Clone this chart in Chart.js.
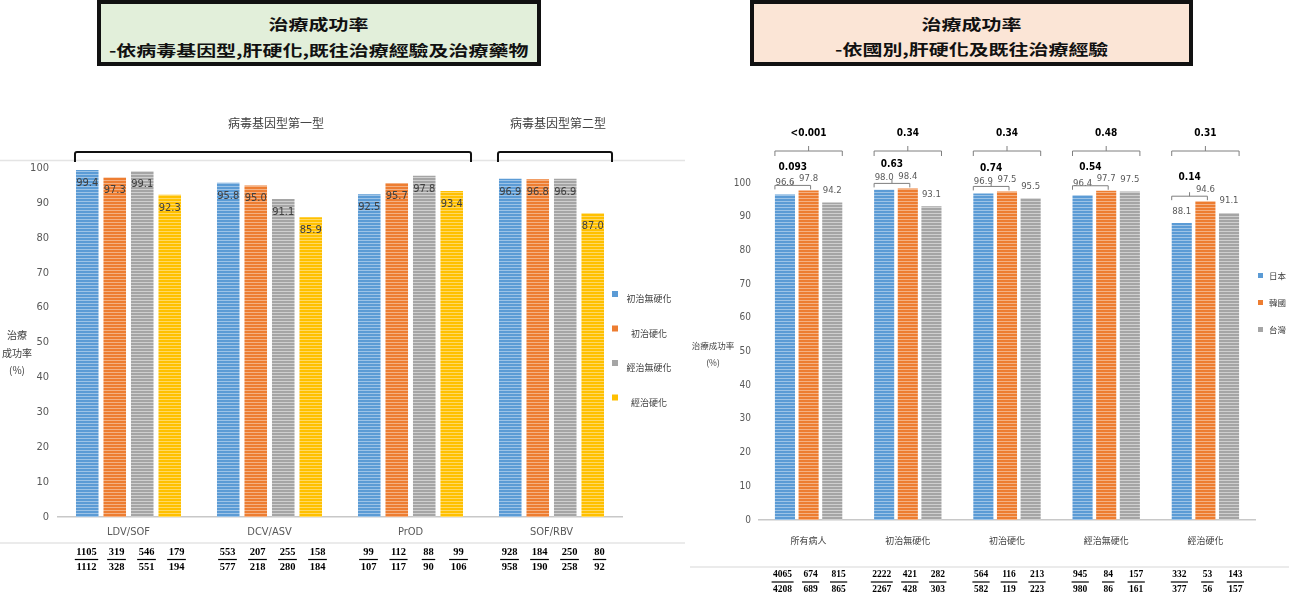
<!DOCTYPE html>
<html><head><meta charset="utf-8">
<script src="https://cdn.jsdelivr.net/npm/chart.js@4"></script>
<style>
html,body{margin:0;padding:0;background:#fff;width:1289px;height:606px;overflow:hidden;}
#wrap{position:relative;width:1289px;height:606px;}
canvas{position:absolute;top:0;}
.tbox{position:absolute;top:0;height:66px;box-sizing:border-box;border:4px solid #111;text-align:center;font-family:"Noto Sans CJK TC";font-weight:700;color:#111;}
.tline{position:absolute;left:0;right:0;font-size:15px;line-height:18px;white-space:nowrap;}
.tline span{display:inline-block;transform:scaleX(1.33);transform-origin:center;}
.ytitle{position:absolute;font-family:"Noto Sans CJK TC";color:#404040;text-align:center;white-space:nowrap;}
</style></head>
<body><div id="wrap">
<canvas id="left" width="685" height="606" style="left:0"></canvas>
<canvas id="right" width="604" height="606" style="left:685px"></canvas>
<div class="tbox" style="left:97px;width:444px;background:#E2EFDA;">
  <div class="tline" style="top:11px"><span>治療成功率</span></div>
  <div class="tline" style="top:37px"><span>-依病毒基因型,肝硬化,既往治療經驗及治療藥物</span></div>
</div>
<div class="tbox" style="left:750px;width:443px;background:#FBE5D6;">
  <div class="tline" style="top:11px"><span>治療成功率</span></div>
  <div class="tline" style="top:36px"><span>-依國別,肝硬化及既往治療經驗</span></div>
</div>
<div class="ytitle" style="left:0;width:34px;top:326px;font-size:10px;line-height:17.5px;">治療<br>成功率<br>(%)</div>
<div class="ytitle" style="left:688px;width:50px;top:337px;font-size:8.5px;line-height:17px;">治療成功率<br>(%)</div>
</div>
<script>
// ---------- Left chart data ----------
const leftCategories = ['LDV/SOF','DCV/ASV','PrOD','SOF/RBV'];
const leftSeries = ['初治無硬化','初治硬化','經治無硬化','經治硬化'];
const naiveNoCirr = [99.4, 95.8, 92.5, 96.9];
const naiveCirr   = [97.3, 95.0, 95.7, 96.8];
const expNoCirr   = [99.1, 91.1, 97.8, 96.9];
const expCirr     = [92.3, 85.9, 93.4, 87.0];
const naiveNoCirrCured = [1105, 553, 99, 928];
const naiveNoCirrTotal = [1112, 577, 107, 958];
const naiveCirrCured   = [319, 207, 112, 184];
const naiveCirrTotal   = [328, 218, 117, 190];
const expNoCirrCured   = [546, 255, 88, 250];
const expNoCirrTotal   = [551, 280, 90, 258];
const expCirrCured     = [179, 158, 99, 80];
const expCirrTotal     = [194, 184, 106, 92];
const genotypeLabels   = ['病毒基因型第一型','病毒基因型第二型'];
const genotypeFirstCat = [0, 3];
const genotypeLastCat  = [2, 3];

// ---------- Right chart data ----------
const rightCategories = ['所有病人','初治無硬化','初治硬化','經治無硬化','經治硬化'];
const rightSeries = ['日本','韓國','台灣'];
const japan  = [96.6, 98.0, 96.9, 96.4, 88.1];
const korea  = [97.8, 98.4, 97.5, 97.7, 94.6];
const taiwan = [94.2, 93.1, 95.5, 97.5, 91.1];
const japanCured  = [4065, 2222, 564, 945, 332];
const japanTotal  = [4208, 2267, 582, 980, 377];
const koreaCured  = [674, 421, 116, 84, 53];
const koreaTotal  = [689, 428, 119, 86, 56];
const taiwanCured = [815, 282, 213, 157, 143];
const taiwanTotal = [865, 303, 223, 161, 157];
const pOverall    = ['<0.001','0.34','0.34','0.48','0.31'];
const pJapanKorea = ['0.093','0.63','0.74','0.54','0.14'];

const NARROW = '"Liberation Sans Narrow","DejaVu Sans Condensed",sans-serif';
const CJK = '"Noto Sans CJK TC",sans-serif';
const SERIF = '"Liberation Serif",serif';

function stripes(base, light){
  const c = document.createElement('canvas'); c.width = 4; c.height = 3;
  const g = c.getContext('2d');
  g.fillStyle = base; g.fillRect(0,0,4,3);
  g.fillStyle = light; g.fillRect(0,0,4,1);
  return g.createPattern(c, 'repeat');
}
const BLUE = ['#5B9BD5','#9DC3E6'], ORANGE = ['#ED7D31','#F4B183'], GRAY = ['#A5A5A5','#CFCFCF'], YELLOW = ['#FFC000','#FFD966'];

function drawFraction(ctx, x, num, den, yNum, yLine, yDen, font){
  ctx.font = font; ctx.fillStyle = '#000'; ctx.textAlign = 'center'; ctx.textBaseline = 'middle';
  const w = Math.max(ctx.measureText(String(num)).width, ctx.measureText(String(den)).width) + 3;
  ctx.fillText(String(num), x, yNum);
  ctx.fillText(String(den), x, yDen);
  ctx.beginPath(); ctx.moveTo(x - w/2, yLine); ctx.lineTo(x + w/2, yLine);
  ctx.lineWidth = 1.2; ctx.strokeStyle = '#000'; ctx.stroke();
}
function hline(ctx, x1, x2, y, color, w){
  ctx.beginPath(); ctx.moveTo(x1, y); ctx.lineTo(x2, y); ctx.lineWidth = w; ctx.strokeStyle = color; ctx.stroke();
}

// ---------- Left chart ----------
const leftCured = [naiveNoCirrCured, naiveCirrCured, expNoCirrCured, expCirrCured];
const leftTotal = [naiveNoCirrTotal, naiveCirrTotal, expNoCirrTotal, expCirrTotal];
const leftExtras = {
  id: 'leftExtras',
  beforeDraw(chart){
    const ctx = chart.ctx; ctx.save();
    hline(ctx, 0, chart.width, 160.5, '#E4E4E4', 1.5);
    hline(ctx, 0, chart.width, 543, '#E4E4E4', 1.5);
    ctx.restore();
  },
  afterDatasetsDraw(chart){
    const ctx = chart.ctx, xs = chart.scales.x;
    ctx.save();
    // value labels inside top of bars
    ctx.font = '11px ' + NARROW; ctx.fillStyle = '#404040'; ctx.textAlign = 'center'; ctx.textBaseline = 'middle';
    chart.data.datasets.forEach((ds, i) => {
      chart.getDatasetMeta(i).data.forEach((el, j) => {
        ctx.fillText(ds.data[j].toFixed(1), el.x, el.y + 13);
      });
    });
    // genotype brackets
    const m0 = chart.getDatasetMeta(0), mL = chart.getDatasetMeta(chart.data.datasets.length - 1);
    genotypeLabels.forEach((lab, g) => {
      const a = m0.data[genotypeFirstCat[g]], b = mL.data[genotypeLastCat[g]];
      const l = a.x - a.width/2 - 1, r = b.x + b.width/2 + 8;
      ctx.beginPath();
      ctx.moveTo(l, 162); ctx.lineTo(l, 154); ctx.quadraticCurveTo(l, 152, l + 2, 152);
      ctx.lineTo(r - 2, 152); ctx.quadraticCurveTo(r, 152, r, 154); ctx.lineTo(r, 162);
      ctx.lineWidth = 2; ctx.strokeStyle = '#111'; ctx.stroke();
      ctx.font = '12px ' + CJK; ctx.fillStyle = '#404040';
      ctx.fillText(lab, (l + r)/2 + 3, 123);
    });
    // fractions
    chart.data.datasets.forEach((ds, i) => {
      leftCategories.forEach((c, j) => {
        const x = xs.getPixelForValue(j) + 3 + (i - 1.5) * 30;
        drawFraction(ctx, x, leftCured[i][j], leftTotal[i][j], 552, 559.5, 567, 'bold 10.5px ' + SERIF);
      });
    });
    // legend
    chart.data.datasets.forEach((ds, i) => {
      const y = 299 + i * 34.5;
      ctx.fillStyle = ds.borderColor; ctx.fillRect(612, y - 8, 6, 6);
      ctx.font = '9px ' + CJK; ctx.fillStyle = '#404040'; ctx.textAlign = 'center';
      ctx.fillText(ds.label, 649, y);
    });
    ctx.restore();
  }
};

new Chart(document.getElementById('left'), {
  type: 'bar',
  data: {
    labels: leftCategories,
    datasets: [
      {label: leftSeries[0], data: naiveNoCirr, backgroundColor: stripes(...BLUE), borderColor: BLUE[0]},
      {label: leftSeries[1], data: naiveCirr, backgroundColor: stripes(...ORANGE), borderColor: ORANGE[0]},
      {label: leftSeries[2], data: expNoCirr, backgroundColor: stripes(...GRAY), borderColor: GRAY[0]},
      {label: leftSeries[3], data: expCirr, backgroundColor: stripes(...YELLOW), borderColor: YELLOW[0]}
    ]
  },
  options: {
    responsive: false, animation: false, devicePixelRatio: 1,
    categoryPercentage: 0.78, barPercentage: 0.82,
    layout: {padding: {top: 168, right: 63, bottom: 0, left: 0}},
    plugins: {legend: {display: false}, tooltip: {enabled: false}},
    scales: {
      x: {
        grid: {display: false, drawTicks: false},
        border: {color: '#C8C8C8', width: 1.5},
        ticks: {color: '#595959', font: {family: NARROW, size: 11}, padding: 9},
        afterFit(s){ s.height = 89; }
      },
      y: {
        min: 0, max: 100,
        grid: {display: false, drawTicks: false},
        border: {display: false},
        ticks: {stepSize: 10, color: '#595959', font: {family: NARROW, size: 11}, padding: 9},
        afterFit(s){ s.width = 58; }
      }
    }
  },
  plugins: [leftExtras]
});

// ---------- Right chart ----------
const rightCured = [japanCured, koreaCured, taiwanCured];
const rightTotal = [japanTotal, koreaTotal, taiwanTotal];
const rightExtras = {
  id: 'rightExtras',
  beforeDraw(chart){
    const ctx = chart.ctx; ctx.save();
    hline(ctx, 5, chart.width, 567, '#E4E4E4', 1.5);
    ctx.restore();
  },
  afterDatasetsDraw(chart){
    const ctx = chart.ctx, xs = chart.scales.x;
    ctx.save();
    ctx.textAlign = 'center'; ctx.textBaseline = 'middle';
    // value labels above bars
    ctx.font = '9.5px ' + NARROW; ctx.fillStyle = '#595959';
    chart.data.datasets.forEach((ds, i) => {
      chart.getDatasetMeta(i).data.forEach((el, j) => {
        ctx.fillText(ds.data[j].toFixed(1), el.x, el.y - 12);
      });
    });
    // brackets with p-values
    const mJ = chart.getDatasetMeta(0), mK = chart.getDatasetMeta(1), mT = chart.getDatasetMeta(2);
    ctx.strokeStyle = '#7F7F7F'; ctx.lineWidth = 1;
    rightCategories.forEach((c, j) => {
      const a = mJ.data[j], b = mK.data[j], t = mT.data[j];
      // overall bracket
      let l = a.x - a.width/2, r = t.x + t.width/2, cx = (l + r)/2, y = 151;
      ctx.beginPath();
      ctx.moveTo(l, y + 5); ctx.lineTo(l, y); ctx.lineTo(r, y); ctx.lineTo(r, y + 5);
      ctx.moveTo(cx, y); ctx.lineTo(cx, y - 5); ctx.stroke();
      ctx.font = 'bold 10px ' + NARROW; ctx.fillStyle = '#000';
      ctx.fillText(pOverall[j], cx, 133.5);
      // japan vs korea bracket
      l = a.x - a.width/2; r = b.x + 2; cx = (l + r)/2; y = Math.min(a.y, b.y) - 5;
      ctx.beginPath();
      ctx.moveTo(l, y + 4); ctx.lineTo(l, y); ctx.lineTo(r, y); ctx.lineTo(r, y + 4);
      ctx.moveTo(cx, y); ctx.lineTo(cx, y - 4); ctx.stroke();
      ctx.fillText(pJapanKorea[j], cx, y - 18.5);
    });
    // fractions
    chart.data.datasets.forEach((ds, i) => {
      rightCategories.forEach((c, j) => {
        const x = xs.getPixelForValue(j) + 2 + (i - 1) * 28;
        drawFraction(ctx, x, rightCured[i][j], rightTotal[i][j], 575, 582, 590, 'bold 9.5px ' + SERIF);
      });
    });
    // legend
    chart.data.datasets.forEach((ds, i) => {
      const y = 276 + i * 27;
      ctx.fillStyle = ds.borderColor; ctx.fillRect(573, y - 3, 5, 5);
      ctx.font = '8.5px ' + CJK; ctx.fillStyle = '#404040'; ctx.textAlign = 'left';
      ctx.fillText(ds.label, 584, y);
    });
    ctx.restore();
  }
};

new Chart(document.getElementById('right'), {
  type: 'bar',
  data: {
    labels: rightCategories,
    datasets: [
      {label: rightSeries[0], data: japan, backgroundColor: stripes(...BLUE), borderColor: BLUE[0]},
      {label: rightSeries[1], data: korea, backgroundColor: stripes(...ORANGE), borderColor: ORANGE[0]},
      {label: rightSeries[2], data: taiwan, backgroundColor: stripes(...GRAY), borderColor: GRAY[0]}
    ]
  },
  options: {
    responsive: false, animation: false, devicePixelRatio: 1,
    categoryPercentage: 0.715, barPercentage: 0.85,
    layout: {padding: {top: 183, right: 34, bottom: 0, left: 0}},
    plugins: {legend: {display: false}, tooltip: {enabled: false}},
    scales: {
      x: {
        grid: {display: false, drawTicks: false},
        border: {color: '#C8C8C8', width: 1.5},
        ticks: {color: '#404040', font: {family: CJK, size: 9}, padding: 15},
        afterFit(s){ s.height = 86; }
      },
      y: {
        min: 0, max: 100,
        grid: {display: false, drawTicks: false},
        border: {display: false},
        ticks: {stepSize: 10, color: '#595959', font: {family: NARROW, size: 10}, padding: 8},
        afterFit(s){ s.width = 74; }
      }
    }
  },
  plugins: [rightExtras]
});
</script>
</body></html>
